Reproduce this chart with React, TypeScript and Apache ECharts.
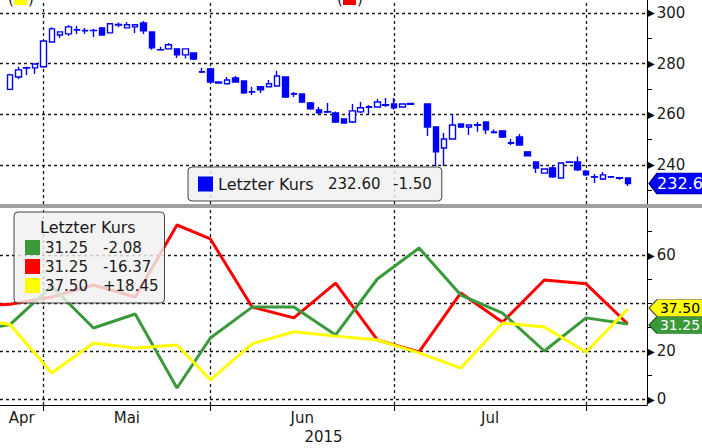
import React, { useEffect, useRef } from 'react';
import * as echarts from 'echarts';

// ---------- data ----------
const tradingDays = [
  '2015-04-27', '2015-04-28', '2015-04-29', '2015-04-30',
  '2015-05-04', '2015-05-05', '2015-05-06', '2015-05-07', '2015-05-08',
  '2015-05-11', '2015-05-12', '2015-05-13', '2015-05-14', '2015-05-15',
  '2015-05-18', '2015-05-19', '2015-05-20', '2015-05-21', '2015-05-22',
  '2015-05-25', '2015-05-26', '2015-05-27', '2015-05-28', '2015-05-29',
  '2015-06-01', '2015-06-02', '2015-06-03', '2015-06-04', '2015-06-05',
  '2015-06-08', '2015-06-09', '2015-06-10', '2015-06-11', '2015-06-12',
  '2015-06-15', '2015-06-16', '2015-06-17', '2015-06-18', '2015-06-19',
  '2015-06-22', '2015-06-23', '2015-06-24', '2015-06-25', '2015-06-26',
  '2015-06-29', '2015-06-30',
  '2015-07-01', '2015-07-02', '2015-07-03',
  '2015-07-06', '2015-07-07', '2015-07-08', '2015-07-09', '2015-07-10',
  '2015-07-13', '2015-07-14', '2015-07-15', '2015-07-16', '2015-07-17',
  '2015-07-20', '2015-07-21', '2015-07-22', '2015-07-23', '2015-07-24',
  '2015-07-27', '2015-07-28', '2015-07-29', '2015-07-30', '2015-07-31',
  '2015-08-03', '2015-08-04', '2015-08-05', '2015-08-06', '2015-08-07',
  '2015-08-10',
];

// open, close, low, high (null = no candle)
const candles: ([number, number, number, number] | null)[] = [
  [269.8, 275.5, 269.5, 276.0],
  [274.7, 277.5, 273.9, 278.7],
  [278.2, 278.4, 275.5, 278.7],
  [278.3, 279.8, 275.9, 280.0],
  [278.7, 288.9, 278.3, 289.2],
  [288.5, 293.7, 288.3, 294.3],
  [291.3, 292.5, 290.1, 292.7],
  [291.7, 294.5, 290.9, 295.2],
  [293.4, 293.2, 291.7, 294.9],
  [293.1, 292.9, 291.7, 294.0],
  [293.0, 293.1, 290.5, 293.7],
  [294.1, 291.3, 291.0, 294.3],
  [292.1, 295.7, 292.0, 295.9],
  [295.2, 295.4, 294.3, 296.2],
  [294.1, 295.3, 294.0, 296.4],
  [294.5, 295.3, 292.1, 295.5],
  [296.0, 292.9, 291.7, 296.8],
  [292.5, 286.2, 285.4, 292.7],
  [285.5, 285.4, 285.0, 286.6],
  [285.8, 287.4, 285.6, 288.1],
  [285.8, 283.4, 282.2, 286.0],
  [283.4, 285.8, 282.0, 286.0],
  [284.2, 281.8, 281.4, 284.4],
  [276.8, 276.6, 276.3, 278.3],
  [277.9, 272.7, 272.5, 278.3],
  [272.7, 272.3, 272.0, 272.9],
  [272.0, 273.5, 271.8, 274.7],
  [274.3, 272.7, 272.5, 275.1],
  [273.1, 268.4, 268.0, 273.3],
  [268.9, 268.7, 267.6, 270.8],
  [270.8, 269.6, 268.4, 271.0],
  [270.8, 272.0, 270.6, 273.5],
  [271.1, 275.1, 270.8, 277.1],
  [274.7, 266.8, 266.4, 275.0],
  [268.1, 267.9, 266.8, 268.8],
  [268.0, 264.8, 264.4, 268.2],
  [264.4, 262.1, 261.7, 264.8],
  [261.7, 260.5, 260.1, 262.8],
  [261.0, 260.8, 260.5, 264.4],
  [260.5, 256.9, 256.5, 261.0],
  [258.1, 256.5, 256.3, 258.3],
  [256.9, 261.3, 256.5, 264.0],
  [260.9, 262.5, 260.5, 264.8],
  [262.9, 262.7, 260.1, 263.6],
  [262.8, 264.8, 262.5, 266.0],
  [263.7, 263.5, 262.8, 266.4],
  [264.0, 262.5, 261.7, 266.4],
  [262.8, 264.0, 262.6, 264.2],
  [264.2, 263.9, 263.7, 264.4],
  null,
  [264.0, 254.9, 251.4, 264.2],
  [254.9, 245.1, 239.5, 255.0],
  [246.6, 250.2, 239.5, 252.6],
  [250.2, 255.7, 250.0, 260.1],
  [256.1, 254.9, 254.5, 256.3],
  [254.9, 255.7, 251.8, 256.0],
  [255.8, 255.6, 253.0, 256.9],
  [256.9, 253.8, 252.2, 257.1],
  [252.7, 253.0, 252.4, 254.0],
  [253.4, 251.0, 250.6, 253.6],
  [248.7, 248.5, 247.8, 250.2],
  [251.0, 247.8, 247.6, 252.2],
  [245.1, 243.5, 243.3, 245.3],
  [241.1, 238.7, 236.7, 241.3],
  [236.7, 238.3, 236.5, 238.6],
  [238.7, 235.2, 234.8, 239.5],
  [234.8, 240.7, 234.6, 241.0],
  [241.0, 241.1, 240.9, 241.3],
  [241.1, 238.0, 237.5, 243.3],
  [237.5, 236.0, 235.6, 237.9],
  [235.3, 235.1, 232.8, 236.4],
  [234.4, 236.0, 234.0, 237.1],
  [235.3, 235.1, 234.8, 235.6],
  [234.9, 234.7, 234.0, 235.2],
  [234.8, 232.6, 231.6, 235.0],
];

const priceTicks = [230, 240, 250, 260, 270, 280, 290, 300];
const priceLabels = [240, 260, 280, 300];
const lastClose = 232.6;
const priceChange = -1.5;

// weekly indicator points (x = trading-day index)
const weekIdx = [-5, 0, 5, 10, 15, 20, 24, 29, 34, 39, 44, 49, 54, 59, 64, 69, 74];
const greenVals = [28, 31, 47, 29.6, 35.4, 4.6, 25.4, 38.3, 38.3, 26.7, 50, 62.9, 43.3, 35.8, 20, 33.8, 31.25];
const redVals = [38.5, 39.5, 42.5, 47.5, 42.5, 72.5, 66.7, 38.3, 33.8, 48.3, 24.6, 19.6, 44.2, 32, 49.6, 48, 31.25];
const yellowVals = [34, 31, 10.8, 23.3, 21.2, 22.5, 8, 23, 28, 26.2, 24.6, 19.2, 12.9, 31.7, 30, 19.6, 37.5];
const indicatorChange = [-2.08, -16.37, 18.45]; // green, red, yellow
const indTicks = [0, 10, 20, 30, 40, 50, 60, 70];
const indGrid = [0, 20, 40, 60];
const indLabels = [0, 20, 60];

const monthLabels = ['Apr', 'Mai', 'Jun', 'Jul'];
const yearLabel = '2015';

// ---------- helpers ----------
const FONT = 'DejaVu Sans';
const TXT = '#1a1a1a';
const X_MIN = -1.2;
const X_MAX = 76.3;
const TAG = 'path://M0,10L9,0L60,0L60,20L9,20Z';
const BLUE = '#0000ff';
const GREEN = '#3a9a3a';
const RED = '#ff0000';
const YELLOW = '#ffff00';

const monthStartIdx: number[] = [];
tradingDays.forEach((d, i) => {
  if (i > 0 && d.slice(5, 7) !== tradingDays[i - 1].slice(5, 7)) monthStartIdx.push(i);
});
const bounds = [X_MIN, ...monthStartIdx];
const monthLabelPos = monthLabels.map((_, k) => (bounds[k] + bounds[k + 1]) / 2);
const yearPos = (X_MIN + X_MAX) / 2;

const signed = (v: number) => (v > 0 ? '+' : '') + v.toFixed(2);

const candleData = candles
  .map((c, i) => (c ? [i, c[0], c[1], c[2], c[3]] : null))
  .filter((d) => d !== null);

const yLabel = (custom: number[]) => ({
  customValues: custom,
  margin: 0,
  formatter: (v: number) => `{t|▶}{v|${v}}`,
  rich: {
    t: { fontSize: 10, color: '#000', fontFamily: FONT, verticalAlign: 'middle' },
    v: { fontSize: 15, color: TXT, fontFamily: FONT, padding: [0, 0, 0, 2], verticalAlign: 'middle' },
  },
});

const dash = { type: [3, 3], color: '#1a1a1a', width: 1.3 };

const gridLineSeries = (axisIdx: number, hValues: number[]) => ({
  type: 'line',
  xAxisIndex: axisIdx,
  yAxisIndex: axisIdx,
  data: [[X_MIN, hValues[0]]],
  symbol: 'none',
  lineStyle: { opacity: 0 },
  silent: true,
  z: 1,
  markLine: {
    z: 1,
    silent: true,
    symbol: ['none', 'none'],
    label: { show: false },
    lineStyle: dash,
    emphasis: { disabled: true },
    data: [...monthStartIdx.map((v) => ({ xAxis: v })), ...hValues.map((v) => ({ yAxis: v }))],
  },
});

const tag = (y: number, text: string, fill: string, color: string, h: number, border: string, dy: number) => ({
  z: 6,
  symbolKeepAspect: false,
  data: [
    {
      coord: [weekIdx[weekIdx.length - 1], y],
      x: 676,
      symbol: TAG,
      symbolSize: [54, h],
      symbolOffset: [0, dy],
      symbolKeepAspect: false,
      itemStyle: { color: fill, borderColor: border, borderWidth: 1 },
      label: {
        show: true,
        position: 'inside',
        formatter: text,
        color,
        fontSize: 14,
        lineHeight: 13,
        fontFamily: FONT,
        offset: [4, 0],
      },
    },
  ],
});

const lineSeries = (name: string, vals: number[], color: string, markPoint?: any) => ({
  name,
  type: 'line',
  xAxisIndex: 1,
  yAxisIndex: 1,
  data: weekIdx.map((x, i) => [x, vals[i]]),
  symbol: 'none',
  itemStyle: { color },
  lineStyle: { color, width: 3 },
  z: 2,
  ...(markPoint ? { markPoint } : {}),
});

function buildOption() {
  return {
    animation: false,
    backgroundColor: '#ffffff',
    textStyle: { fontFamily: FONT },
    grid: [
      { left: 0, right: 55, top: 0, height: 204, containLabel: false, outerBoundsMode: 'none' },
      { left: 0, right: 55, top: 207, height: 198, containLabel: false, outerBoundsMode: 'none' },
    ],
    xAxis: [
      { type: 'value', gridIndex: 0, min: X_MIN, max: X_MAX, show: false },
      {
        type: 'value',
        gridIndex: 1,
        min: X_MIN,
        max: X_MAX,
        axisLine: { show: true, onZero: false, lineStyle: { color: '#000', width: 1 } },
        axisTick: { show: true, customValues: monthStartIdx, length: 6, lineStyle: { color: '#000', width: 1 } },
        axisLabel: {
          customValues: monthLabelPos,
          formatter: (v: number) => {
            const k = monthLabelPos.findIndex((p) => Math.abs(p - v) < 1e-6);
            return k >= 0 ? monthLabels[k] : '';
          },
          margin: 5,
          fontSize: 15,
          color: TXT,
          fontFamily: FONT,
        },
        splitLine: { show: false },
      },
      {
        type: 'value',
        gridIndex: 1,
        min: X_MIN,
        max: X_MAX,
        position: 'bottom',
        offset: 19,
        axisLine: { show: false, onZero: false },
        axisTick: { show: false },
        axisLabel: {
          customValues: [yearPos],
          formatter: () => yearLabel,
          margin: 5,
          fontSize: 15,
          color: TXT,
          fontFamily: FONT,
        },
        splitLine: { show: false },
      },
    ],
    yAxis: [
      {
        type: 'value',
        gridIndex: 0,
        position: 'right',
        min: 224.5,
        max: 305.1,
        axisLine: { show: true, onZero: false, lineStyle: { color: '#000', width: 1 } },
        axisTick: { show: true, customValues: priceTicks, length: 5, lineStyle: { color: '#000' } },
        axisLabel: yLabel(priceLabels),
        splitLine: { show: false },
      },
      {
        type: 'value',
        gridIndex: 1,
        position: 'right',
        min: -2.5,
        max: 80,
        axisLine: { show: true, onZero: false, lineStyle: { color: '#000', width: 1 } },
        axisTick: { show: true, customValues: indTicks, length: 5, lineStyle: { color: '#000' } },
        axisLabel: yLabel(indLabels),
        splitLine: { show: false },
      },
    ],
    title: {
      text: 'Letzter Kurs',
      left: 40,
      top: 219,
      padding: 0,
      textStyle: { fontSize: 16, fontWeight: 'normal', color: TXT, fontFamily: FONT },
    },
    legend: [
      {
        left: 188,
        top: 167,
        orient: 'horizontal',
        selectedMode: false,
        data: [{ name: 'Letzter Kurs', icon: 'rect', itemStyle: { color: BLUE, borderWidth: 0 } }],
        itemWidth: 15,
        itemHeight: 15,
        padding: [9, 10, 9, 10],
        backgroundColor: 'rgba(240,240,240,0.82)',
        borderColor: '#444',
        borderWidth: 1,
        borderRadius: 4,
        formatter: () => `{a|Letzter Kurs}{b|${lastClose.toFixed(2)}}{c|${signed(priceChange)}}`,
        textStyle: {
          rich: {
            a: { fontSize: 16, width: 110, color: TXT, fontFamily: FONT, lineHeight: 17 },
            b: { fontSize: 15, width: 65, color: TXT, fontFamily: FONT, lineHeight: 17 },
            c: { fontSize: 15, color: TXT, fontFamily: FONT, lineHeight: 17 },
          },
        },
      },
      {
        left: 14,
        top: 212,
        orient: 'vertical',
        selectedMode: false,
        data: ['Grün', 'Rot', 'Gelb'],
        icon: 'rect',
        itemWidth: 15,
        itemHeight: 15,
        itemGap: 4,
        itemStyle: { borderWidth: 0 },
        padding: [28, 6, 10, 11],
        backgroundColor: 'rgba(240,240,240,0.82)',
        borderColor: '#444',
        borderWidth: 1,
        borderRadius: 4,
        formatter: (name: string) => {
          const k = ['Grün', 'Rot', 'Gelb'].indexOf(name);
          const vals = [greenVals, redVals, yellowVals][k];
          return `{v|${vals[vals.length - 1].toFixed(2)}}{c|${signed(indicatorChange[k])}}`;
        },
        textStyle: {
          rich: {
            v: { fontSize: 15, width: 58, color: TXT, fontFamily: FONT, lineHeight: 15 },
            c: { fontSize: 15, color: TXT, fontFamily: FONT, lineHeight: 15 },
          },
        },
      },
    ],
    graphic: [
      { type: 'rect', silent: true, z: 10, shape: { x: 0, y: 204, width: 702, height: 4 }, style: { fill: '#a0a0a0' } },
      { type: 'text', silent: true, z: 10, style: { text: '(', x: 8, y: 6, verticalAlign: 'bottom', fontSize: 15, fontFamily: FONT, fill: TXT } },
      { type: 'rect', silent: true, z: 10, shape: { x: 14, y: -10, width: 13, height: 15 }, style: { fill: YELLOW } },
      { type: 'text', silent: true, z: 10, style: { text: ')', x: 28, y: 6, verticalAlign: 'bottom', fontSize: 15, fontFamily: FONT, fill: TXT } },
      { type: 'text', silent: true, z: 10, style: { text: '(', x: 337, y: 6, verticalAlign: 'bottom', fontSize: 15, fontFamily: FONT, fill: TXT } },
      { type: 'rect', silent: true, z: 10, shape: { x: 343, y: -10, width: 13, height: 15 }, style: { fill: RED } },
      { type: 'text', silent: true, z: 10, style: { text: ')', x: 357, y: 6, verticalAlign: 'bottom', fontSize: 15, fontFamily: FONT, fill: TXT } },
    ],
    series: [
      gridLineSeries(0, priceLabels),
      {
        name: 'Letzter Kurs',
        type: 'candlestick',
        xAxisIndex: 0,
        yAxisIndex: 0,
        data: candleData,
        barWidth: 6,
        z: 2,
        itemStyle: {
          color: '#ffffff',
          color0: BLUE,
          borderColor: BLUE,
          borderColor0: BLUE,
          borderColorDoji: BLUE,
          borderWidth: 1.4,
        },
        markPoint: {
          z: 6,
          symbolKeepAspect: false,
          data: [
            {
              coord: [candleData[candleData.length - 1]![0], lastClose],
              x: 676,
              symbol: TAG,
              symbolSize: [54, 21],
              symbolKeepAspect: false,
              itemStyle: { color: BLUE, borderColor: '#000066', borderWidth: 1 },
              label: {
                show: true,
                position: 'inside',
                formatter: lastClose.toFixed(1),
                color: '#fff',
                fontSize: 16,
                fontFamily: FONT,
                offset: [4, 0],
              },
            },
          ],
        },
      },
      gridLineSeries(1, indGrid),
      lineSeries('Rot', redVals, RED),
      lineSeries('Grün', greenVals, GREEN, tag(greenVals[greenVals.length - 1], greenVals[greenVals.length - 1].toFixed(2), GREEN, '#fff', 17, '#1f5f1f', 1)),
      lineSeries('Gelb', yellowVals, YELLOW, tag(yellowVals[yellowVals.length - 1], yellowVals[yellowVals.length - 1].toFixed(2), YELLOW, '#000', 17, '#555', -1)),
    ],
  };
}

export default function App() {
  const ref = useRef<HTMLDivElement>(null);
  useEffect(() => {
    if (!ref.current) return;
    const chart = echarts.init(ref.current, null, { renderer: 'svg' });
    chart.setOption(buildOption() as any);
    return () => chart.dispose();
  }, []);
  return (
    <div
      ref={ref}
      style={{ position: 'absolute', left: 0, top: 0, width: 702, height: 448, background: '#fff' }}
    />
  );
}
